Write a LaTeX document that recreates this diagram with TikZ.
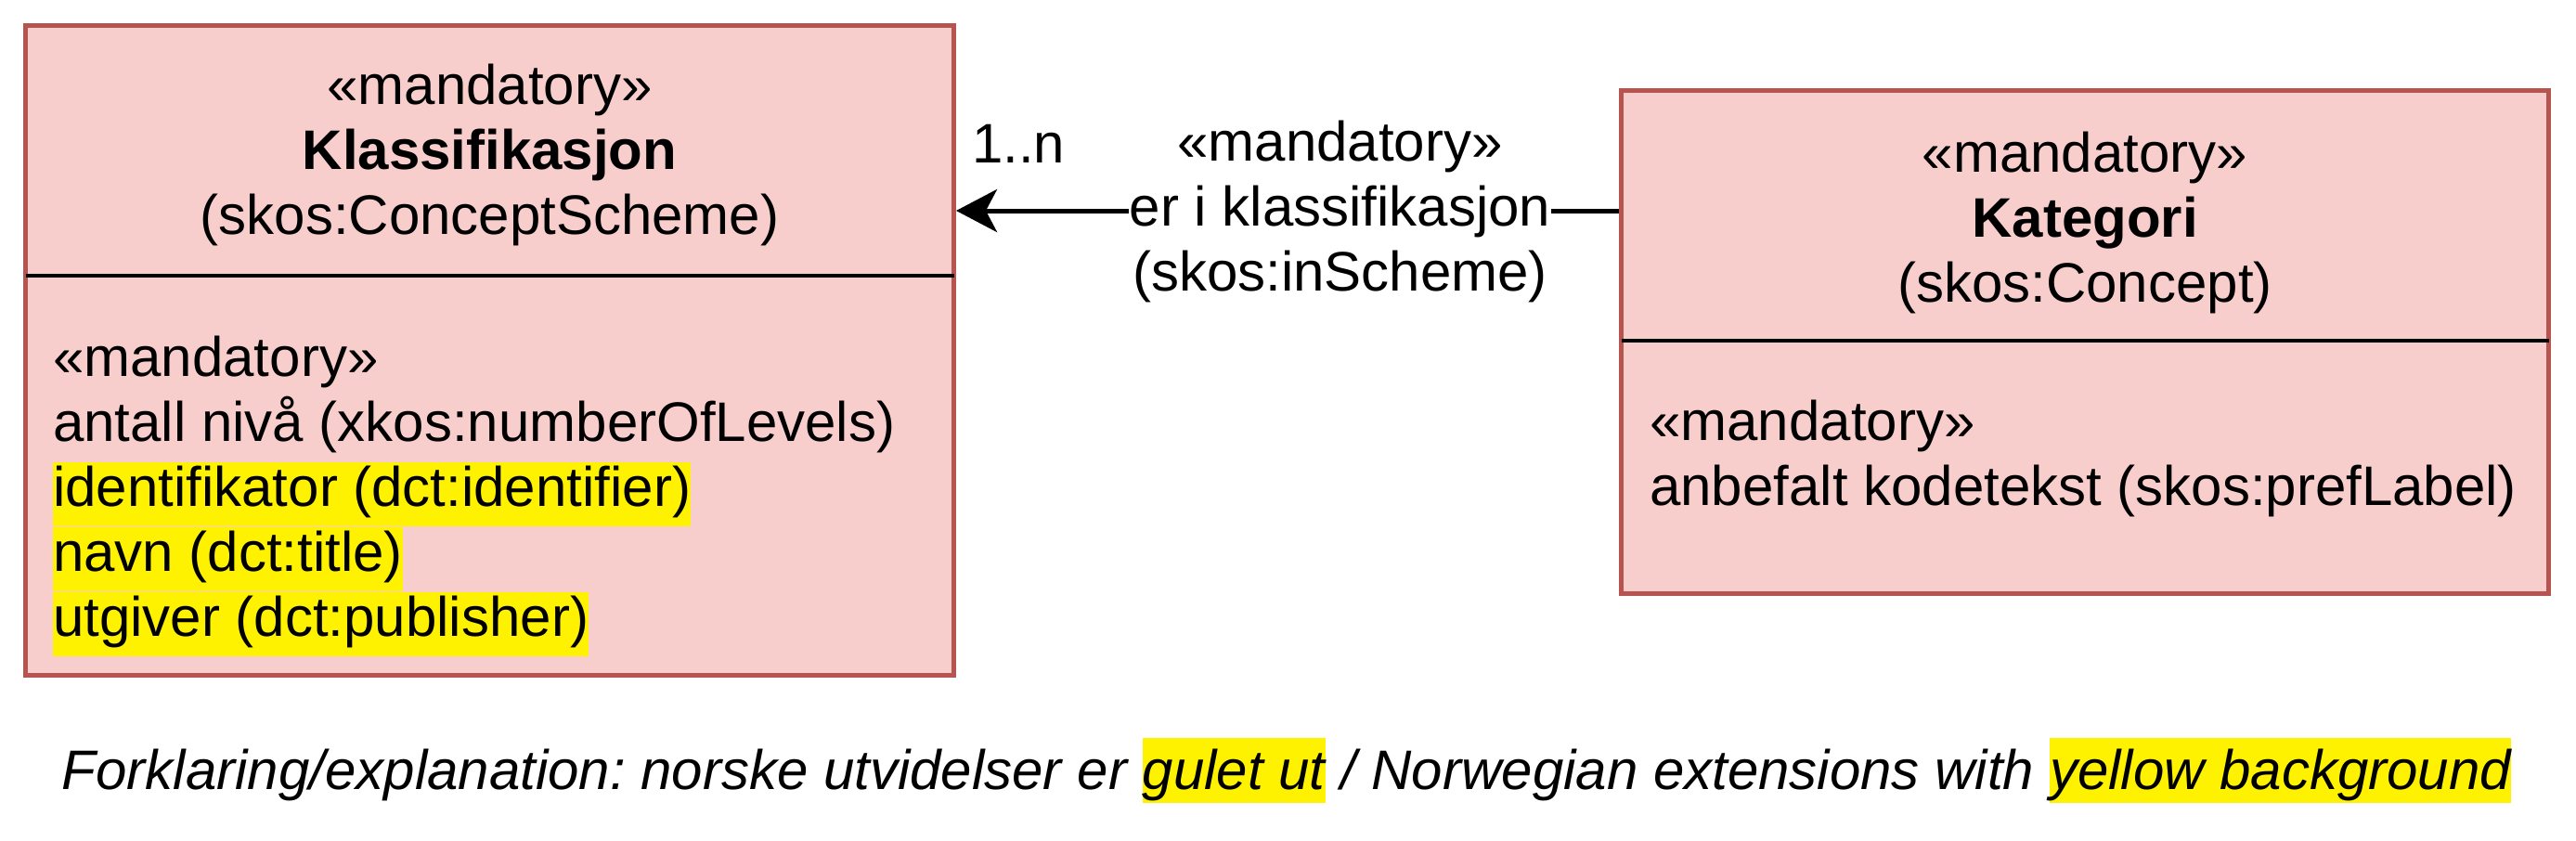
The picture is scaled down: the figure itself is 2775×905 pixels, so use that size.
\documentclass[tikz,border=0pt]{standalone}
\usepackage{fontspec}
\setmainfont{Liberation Sans}
\usetikzlibrary{arrows.meta}
\definecolor{umlfill}{HTML}{F8CECC}
\definecolor{umldraw}{HTML}{B85450}
\newcommand\foothl[1]{{\setlength\fboxsep{0pt}\colorbox{yellow}{\rule[-15pt]{0pt}{70pt}#1}}}
\frenchspacing
\begin{document}
\begin{tikzpicture}[x=1pt,y=-1pt,
  txt/.style={font=\fontsize{60pt}{70pt}\selectfont, inner sep=0pt},
  boldtxt/.style={font=\fontsize{60pt}{70pt}\selectfont\bfseries, inner sep=0pt},
  umlbox/.style={draw=umldraw, fill=umlfill, line width=5pt, anchor=north west, inner sep=0pt},
  divider/.style={draw=black, line width=4.5pt},
  assoc/.style={draw=black, line width=5pt, -{Stealth[length=44pt,width=46pt,inset=12pt]}},
  hlline/.style={txt, fill=yellow, anchor=base west, text height=47.5pt, text depth=22pt},
  attr/.style={txt, anchor=base west}]
\useasboundingbox (0,0) rectangle (2775,905);
% boxes
\node[umlbox, minimum width=1000pt, minimum height=699.5pt] (kl) at (25,25) {};
\node[umlbox, minimum width=999pt, minimum height=541.5pt] (kat) at (1744,95) {};
% dividers
\coordinate (d1) at (0,297);
\coordinate (d2) at (0,367);
\draw[divider] ([xshift=2.5pt]kl.west |- d1) -- ([xshift=-2.5pt]kl.east |- d1);
\draw[divider] ([xshift=2.5pt]kat.west |- d2) -- ([xshift=-2.5pt]kat.east |- d2);
% association
\coordinate (ay) at (0,227);
\draw[assoc] (kat.west |- ay) -- (kl.east |- ay);
% Klassifikasjon header
\node[txt, anchor=base] (klst) at (527.5,112) {«mandatory»};
\node[boldtxt, anchor=base] (klname) at (527.5,182) {Klassifikasjon};
\node[txt, anchor=base] (kluri) at (527.5,252) {(skos:ConceptScheme)};
% Klassifikasjon attributes
\node[attr] (kla0) at (57,405) {«mandatory»};
\node[attr] (kla1) at (57,475) {antall nivå (xkos:numberOfLevels)};
\node[hlline] (kla2) at (57,545) {identifikator (dct:identifier)\hspace{12pt}};
\node[hlline] (kla3) at (57,615) {navn (dct:title)\hspace{9pt}};
\node[hlline] (kla4) at (57,685) {utgiver (dct:publisher)\hspace{9pt}};
% Kategori header
\node[txt, anchor=base] (katst) at (2246,185) {«mandatory»};
\node[boldtxt, anchor=base] (katname) at (2246,255) {Kategori};
\node[txt, anchor=base] (katuri) at (2246,325) {(skos:Concept)};
% Kategori attributes
\node[attr] (kata0) at (1777,474) {«mandatory»};
\node[attr] (kata1) at (1777,544) {anbefalt kodetekst (skos:prefLabel)};
% association labels
\node[txt, anchor=base west] (mult) at (1047,175) {1..n};
\node[txt, anchor=base] (asst) at (1443.6,173) {«mandatory»};
\node[txt, anchor=base, fill=white, inner xsep=1pt, text height=47.5pt, text depth=15pt] (asname) at (1443.6,243) {er i klassifikasjon};
\node[txt, anchor=base] (asuri) at (1443.6,313) {(skos:inScheme)};
% footer
\node[txt, anchor=base, font=\fontsize{60pt}{70pt}\selectfont\itshape] (foot) at (1386,850) {Forklaring/explanation: norske utvidelser er \foothl{gulet ut} / Norwegian extensions with \foothl{yellow background}};
\end{tikzpicture}
\end{document}
